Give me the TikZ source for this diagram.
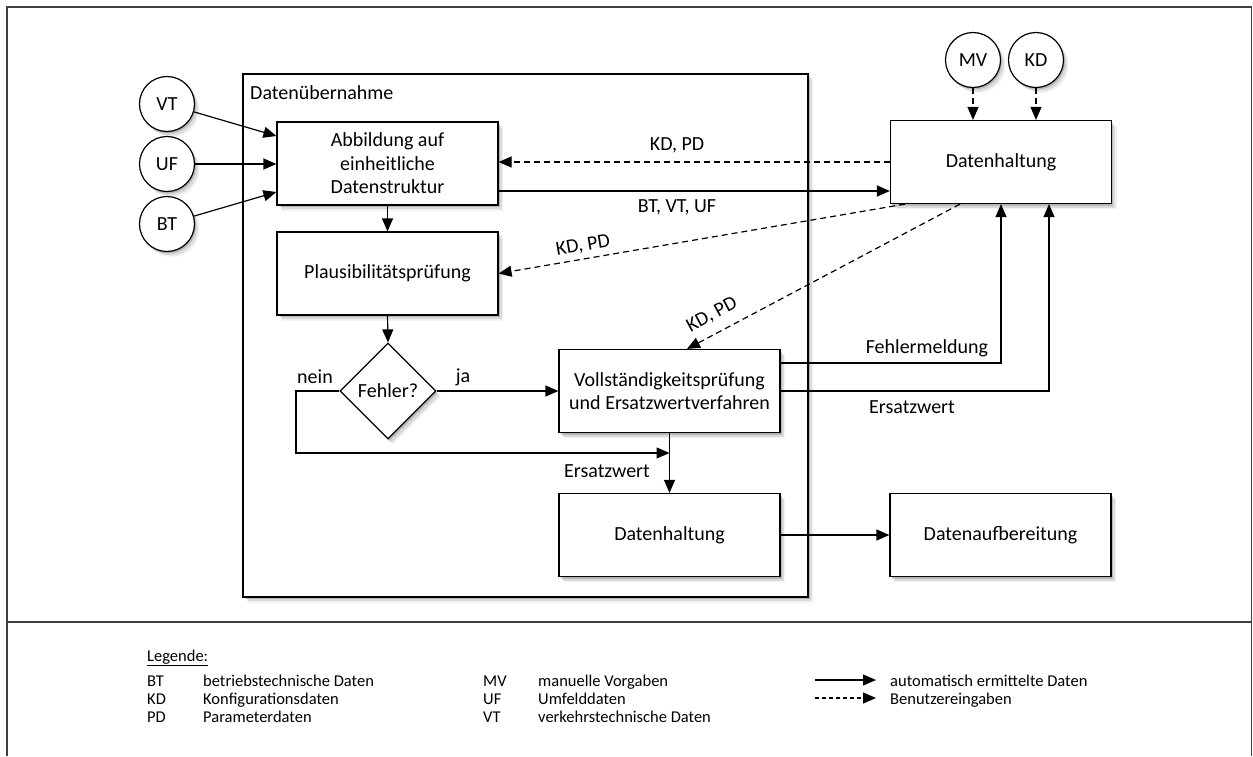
\documentclass[tikz,border=0pt]{standalone}
\usepackage{fontspec}
\setmainfont{Carlito}
\usetikzlibrary{arrows.meta,shapes.geometric,shadows}
\begin{document}
\begin{tikzpicture}[x=1pt,y=-1pt,
  every node/.style={font=\fontsize{20}{23.5}\selectfont},
  shad/.style={drop shadow={shadow xshift=1.5pt,shadow yshift=-2pt,opacity=0.25,fill=black!70},
               drop shadow={shadow xshift=3.5pt,shadow yshift=-4pt,opacity=0.14,fill=black!70},
               drop shadow={shadow xshift=5pt,shadow yshift=-5.5pt,opacity=0.07,fill=black!70}},
  box/.style={draw, fill=white, line width=1.2pt, minimum width=221pt, minimum height=83pt, inner sep=2pt, align=center, shad},
  circ/.style={draw, circle, fill=white, line width=1.2pt, minimum size=55pt, inner sep=0pt, shad},
  dia/.style={draw, diamond, fill=white, line width=1.2pt, minimum width=96pt, minimum height=96pt, inner sep=0pt, shad},
  conn/.style={line width=1.2pt, -{Triangle[length=13pt,width=11pt]}},
  dconn/.style={conn, dash pattern=on 6pt off 4pt},
  lbl/.style={inner sep=0pt},
  leg/.style={font=\fontsize{16.5}{19}\selectfont, anchor=base west, inner sep=0pt},
  frame/.style={line width=1.3pt, black!75}
]
\useasboundingbox (0,0) rectangle (1253,756);
% outer frame
\draw[frame] (7,756) -- (7,7) -- (1251.5,7) -- (1251.5,756);
\draw[frame] (7,622) -- (1251.5,622);

% Datenuebernahme container
\node[box, minimum width=565pt, minimum height=523pt] (dueb) at (525.5,335.5) {};
\node[lbl, anchor=west] (duebl) at (250,93) {Datenübernahme};

% boxes
\node[box] (abb) at (387.5,163.5) {Abbildung auf\\einheitliche\\Datenstruktur};
\node[box] (plaus) at (387.5,273.5) {Plausibilitätsprüfung};
\node[dia] (dia) at (388,391) {Fehler?};
\node[box] (voll) at (669.5,391) {Vollständigkeitsprüfung\\und Ersatzwertverfahren};
\node[box] (dh2) at (669.5,535) {Datenhaltung};
\node[box] (dauf) at (1000.5,535) {Datenaufbereitung};
\node[box] (dh1) at (1001,162) {Datenhaltung};

% circles
\node[circ] (vt) at (167,104) {VT};
\node[circ] (uf) at (167,164) {UF};
\node[circ] (bt) at (167,224) {BT};
\node[circ] (mv) at (973,60) {MV};
\node[circ] (kd) at (1036,60) {KD};

% inputs
\draw[conn] (vt) -- ([yshift=27.5pt]abb.west);
\draw[conn] (uf) -- (uf -| abb.west);
\draw[conn] (bt) -- ([yshift=-28.5pt]abb.west);
\draw[dconn] (mv) -- (mv |- dh1.north);
\draw[dconn] (kd) -- (kd |- dh1.north);

% main flow
\draw[conn] (abb.south) -- (abb.south |- plaus.north);
\draw[dconn] (dh1.west) -- (dh1.west -| abb.east);
\node[lbl] (l1) at (677,145) {KD, PD};
\draw[conn] ([yshift=-27.5pt]abb.east) -- ([yshift=-27.5pt]abb.east -| dh1.west);
\node[lbl] (l2) at (677,207) {BT, VT, UF};
\draw[dconn] ([xshift=-96pt]dh1.south) -- (plaus.east);
\node[lbl, rotate=9.5] (l3) at (583,246) {KD, PD};
\draw[dconn] ([xshift=-41pt]dh1.south) -- ([xshift=17.5pt]voll.north);
\node[lbl, rotate=28.3] (l4) at (712,315) {KD, PD};

\draw[conn] (plaus.south) -- (dia.north);
\draw[conn] (dia.east) -- (voll.west);
\node[lbl] (lja) at (463,377) {ja};
\node[lbl] (lnein) at (315,377) {nein};
\coordinate (nb) at (296,453);
\coordinate (join) at (669.5,453);
\draw[conn] (dia.west) -| (nb) -- (join);
\draw[conn] (voll.south) -- (dh2.north);
\node[lbl] (l5) at (607,471) {Ersatzwert};

\draw[conn] ([yshift=28pt]voll.east) -| (dh1.south);
\node[lbl] (l6) at (927,348) {Fehlermeldung};
\draw[conn] (voll.east) -| ([xshift=48pt]dh1.south);
\node[lbl] (l7) at (912,407) {Ersatzwert};

\draw[conn] (dh2.east) -- (dauf.west);

% legend
\node[leg] (lg) at (147,661) {\underline{Legende:}};
\node[leg] (g1a) at (147,686) {BT};
\node[leg] (g1b) at (203,686) {betriebstechnische Daten};
\node[leg] (g2a) at (147,704) {KD};
\node[leg] (g2b) at (203,704) {Konfigurationsdaten};
\node[leg] (g3a) at (147,722) {PD};
\node[leg] (g3b) at (203,722) {Parameterdaten};
\node[leg] (g4a) at (483,686) {MV};
\node[leg] (g4b) at (538,686) {manuelle Vorgaben};
\node[leg] (g5a) at (483,704) {UF};
\node[leg] (g5b) at (538,704) {Umfelddaten};
\node[leg] (g6a) at (483,722) {VT};
\node[leg] (g6b) at (538,722) {verkehrstechnische Daten};
\coordinate (la1) at (815,680);
\coordinate (la2) at (876,680);
\coordinate (lb1) at (815,698);
\coordinate (lb2) at (876,698);
\draw[conn] (la1) -- (la2);
\draw[dconn, dash pattern=on 4pt off 3pt] (lb1) -- (lb2);
\node[leg] (g7) at (890,686) {automatisch ermittelte Daten};
\node[leg] (g8) at (890,704) {Benutzereingaben};
\end{tikzpicture}
\end{document}
